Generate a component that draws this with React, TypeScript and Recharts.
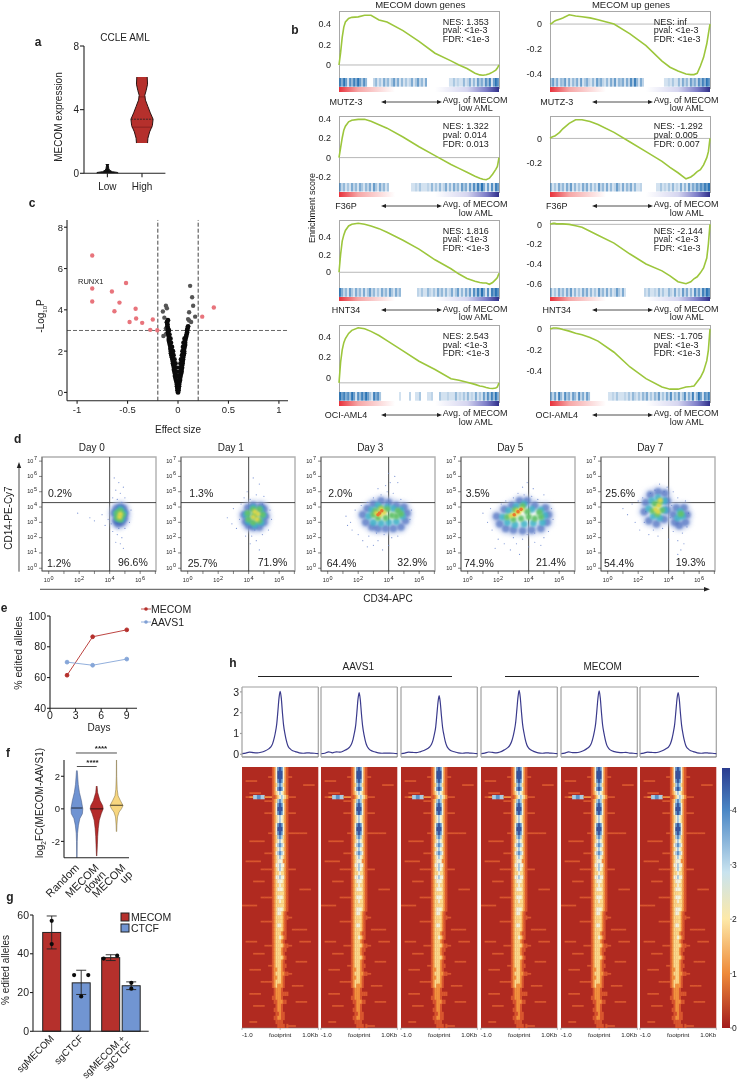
import React from 'react'
import {
  Area, Bar, BarChart, Cell, ComposedChart, ErrorBar, Line, LineChart, ReferenceArea, ReferenceLine,
  Scatter, ScatterChart, XAxis, YAxis,
} from 'recharts'

const FONT = '"Liberation Sans", Arial, sans-serif'
const INK = '#222'

// panel a
const aLowY = [0, 0.05, 0.1, 0.2, 0.3, 0.55]
const aLowW = [0.3, 0.3, 0.14, 0.06, 0.04, 0.02]
const aHighY = [1.9, 2.2, 2.6, 3, 3.4, 3.8, 4.2, 4.6, 4.9, 5.2, 5.6, 6.05]
const aHighW = [0.16, 0.17, 0.22, 0.3, 0.32, 0.24, 0.17, 0.1, 0.08, 0.12, 0.16, 0.15]

// panel c
const cPink = [[-0.85, 6.63], [-0.85, 5.03], [-0.85, 4.4], [-0.515, 5.3], [-0.655, 4.89], [-0.58, 4.35], [-0.63, 3.93], [-0.42, 4.05], [-0.48, 3.41], [-0.415, 3.58], [-0.355, 3.37], [-0.25, 3.53], [-0.275, 3.03], [-0.205, 3.01], [0.24, 3.67], [0.355, 4.11]]
const cGrey = [[0.12, 5.16], [0.14, 4.61], [0.15, 4.2], [0.11, 3.88], [0.17, 3.67], [0.13, 3.41], [0.1, 3.55], [0.11, 3.48], [-0.12, 4.2], [-0.15, 3.92], [-0.11, 4.08], [-0.135, 3.62], [-0.145, 2.73], [-0.12, 2.82], [-0.09, 2.57], [-0.12, 3.1]]
const cBlack = [
  [0, 0], [-0.005, 0.1], [0.005, 0.1], [-0.005, 0.2], [0.005, 0.2], [-0.01, 0.3], [0.01, 0.3], [-0.01, 0.4], [0.01, 0.4], [0, 0.5], [-0.015, 0.5], [0.015, 0.5], [-0.02, 0.6], [0.02, 0.6], [-0.025, 0.7], [0.02, 0.7], [-0.03, 0.8], [0.025, 0.8], [0, 0.8],
  [-0.03, 0.9], [0.03, 0.9], [-0.035, 1], [0.035, 1], [-0.015, 1], [0.015, 1], [-0.04, 1.1], [0.035, 1.1], [-0.04, 1.2], [0.04, 1.2], [-0.02, 1.2], [0.02, 1.2], [-0.045, 1.3], [0.04, 1.3], [-0.05, 1.4], [0.045, 1.4], [-0.025, 1.4], [0.025, 1.4],
  [-0.05, 1.5], [0.045, 1.5], [-0.055, 1.6], [0.05, 1.6], [-0.035, 1.6], [0.03, 1.6], [-0.06, 1.7], [0.05, 1.7], [-0.065, 1.8], [0.055, 1.8], [-0.045, 1.8], [0.04, 1.8], [-0.07, 1.9], [0.06, 1.9], [-0.07, 2], [0.06, 2], [-0.05, 2], [0.045, 2],
  [-0.075, 2.1], [0.06, 2.1], [-0.075, 2.2], [0.065, 2.2], [-0.06, 2.2], [0.05, 2.2], [-0.08, 2.3], [0.07, 2.3], [-0.085, 2.4], [0.07, 2.4], [-0.07, 2.4], [0.055, 2.4], [-0.09, 2.5], [0.07, 2.5], [-0.09, 2.6], [0.075, 2.6], [-0.075, 2.6], [0.065, 2.6],
  [-0.09, 2.7], [0.08, 2.7], [-0.095, 2.8], [0.085, 2.8], [-0.085, 2.8], [-0.1, 2.9], [0.09, 2.9], [-0.1, 3], [0.09, 3], [-0.09, 3], [-0.1, 3.1], [0.095, 3.1], [-0.105, 3.2], [0.1, 3.2], [-0.105, 3.3], [-0.11, 3.4], [-0.1, 3.5],
]

// panel b: x is % of the ranked list
const gseaX = [0, 1, 2, 3, 4, 6, 8, 12, 16, 20, 25, 30, 40, 50, 60, 70, 75, 80, 85, 88, 90, 92, 94, 96, 98, 99, 100]
const es1L = [0, 0.12, 0.27, 0.37, 0.42, 0.455, 0.465, 0.47, 0.485, 0.485, 0.44, 0.42, 0.335, 0.23, 0.115, 0.04, 0, -0.035, -0.08, -0.097, -0.1, -0.095, -0.085, -0.07, -0.05, -0.03, 0]
const es1R = [0, 0.005, 0.015, 0.025, 0.03, 0.04, 0.05, 0.075, 0.065, 0.06, 0.05, 0.035, 0, -0.08, -0.175, -0.3, -0.35, -0.38, -0.405, -0.41, -0.41, -0.4, -0.34, -0.27, -0.16, -0.08, 0]
const es2L = [0, 0.1, 0.2, 0.28, 0.32, 0.365, 0.38, 0.39, 0.39, 0.37, 0.335, 0.3, 0.21, 0.11, 0.02, -0.07, -0.11, -0.15, -0.19, -0.21, -0.22, -0.225, -0.21, -0.17, -0.12, -0.09, 0]
const es2R = [0, 0.01, 0.015, 0.02, 0.03, 0.05, 0.08, 0.125, 0.155, 0.155, 0.14, 0.115, 0.05, -0.03, -0.11, -0.19, -0.24, -0.285, -0.335, -0.32, -0.3, -0.275, -0.26, -0.22, -0.16, -0.11, 0]
const es3L = [0, 0.2, 0.35, 0.42, 0.47, 0.52, 0.54, 0.55, 0.54, 0.52, 0.49, 0.45, 0.36, 0.26, 0.14, 0.04, -0.02, -0.07, -0.1, -0.115, -0.12, -0.12, -0.135, -0.115, -0.08, -0.06, -0.01]
const es3R = [0, 0.005, 0.01, 0.01, 0.005, 0.005, 0.005, 0, -0.015, -0.03, -0.07, -0.11, -0.19, -0.3, -0.4, -0.47, -0.52, -0.58, -0.6, -0.58, -0.55, -0.53, -0.49, -0.44, -0.34, -0.2, 0]
const es4L = [-0.05, 0.15, 0.27, 0.34, 0.38, 0.43, 0.46, 0.485, 0.475, 0.45, 0.41, 0.36, 0.26, 0.16, 0.08, -0.01, -0.025, -0.045, -0.065, -0.08, -0.085, -0.095, -0.103, -0.105, -0.1, -0.09, -0.05]
const es4R = [0, 0.005, 0.01, 0.01, 0.01, 0.005, -0.005, -0.02, -0.04, -0.055, -0.08, -0.115, -0.22, -0.36, -0.47, -0.55, -0.57, -0.57, -0.55, -0.545, -0.54, -0.5, -0.46, -0.4, -0.3, -0.2, 0]

// stripe strength along the ranked list, one digit per bin
const hits1L = '85961748596374000241315241362514131251362415000000000001131211412514163527481697'
const hits1R = '36251436151425161352141635214152614351527384152000000000011213114152416352748597'
const hits2L = '52413152415314251631524130000000000011213111214131412514152416351627384951617286'
const hits2R = '41315241526141315251413162415141263151425141120000000113121314121514162536475869'
const hits3L = '85241631524151362413152416315240000000021311421315241412513614152617384951718697'
const hits3R = '41315241526141315251413162415141263151000000000213112141311421513162514173628597'
const hits4L = '96857496174859631857300000000010000200113000112000311121114121314121513162738495'
const hits4R = '52618417351641725163000000000112131112131421314251314261315271426137152814961758'

const nesLeft = [['NES: 1.353', 'pval: <1e-3', 'FDR: <1e-3'], ['NES: 1.322', 'pval: 0.014', 'FDR: 0.013'], ['NES: 1.816', 'pval: <1e-3', 'FDR: <1e-3'], ['NES: 2.543', 'pval: <1e-3', 'FDR: <1e-3']]
const nesRight = [['NES: inf', 'pval: <1e-3', 'FDR: <1e-3'], ['NES: -1.292', 'pval: 0.005', 'FDR: 0.007'], ['NES: -2.144', 'pval: <1e-3', 'FDR: <1e-3'], ['NES: -1.705', 'pval: <1e-3', 'FDR: <1e-3']]
const cellLines = ['MUTZ-3', 'F36P', 'HNT34', 'OCI-AML4']
const esLeft = [es1L, es2L, es3L, es4L]
const esRight = [es1R, es2R, es3R, es4R]
const hitsLeft = [hits1L, hits2L, hits3L, hits4L]
const hitsRight = [hits1R, hits2R, hits3R, hits4R]
const ticksLeft = [[0, 0.2, 0.4], [-0.2, 0, 0.2, 0.4], [0, 0.2, 0.4], [0, 0.2, 0.4]]
const ticksRight = [[-0.4, -0.2, 0], [-0.2, 0], [-0.6, -0.4, -0.2, 0], [-0.4, -0.2, 0]]
const domainLeft = [[-0.13, 0.527], [-0.262, 0.424], [-0.173, 0.587], [-0.136, 0.512]]
const domainRight = [[-0.44, 0.106], [-0.3725, 0.186], [-0.64, 0.044], [-0.594, 0.038]]

// panel d, decades
const dDays = ['Day 0', 'Day 1', 'Day 3', 'Day 5', 'Day 7']
const dUpperLeft = ['0.2%', '1.3%', '2.0%', '3.5%', '25.6%']
const dLowerLeft = ['1.2%', '25.7%', '64.4%', '74.9%', '54.4%']
const dLowerRight = ['96.6%', '71.9%', '32.9%', '21.4%', '19.3%']
const day0 = [
  [[4.3, 5.9], [4.6, 5.6], [4.9, 5.3], [4.4, 5.1], [4.7, 4.9], [5, 4.6], [4.2, 4.6], [4.5, 4.5], [4.8, 4.3], [3.9, 3.2], [2.7, 3.3], [3, 3.1], [3.5, 3.5], [5.4, 3.8], [5.3, 3], [4.2, 2.4], [4.5, 2.2], [4.8, 2], [4.4, 1.7], [4.7, 1.6], [4.6, 2.6], [5, 2.6], [4.1, 2.9], [4.9, 1.3], [1.9, 3.6], [3.7, 2.8]],
  [[4.3, 3.6], [4.4, 3.1], [4.55, 2.9], [4.8, 3], [4.95, 3.25], [5, 3.6], [4.9, 3.9], [4.7, 4], [4.45, 3.9], [4.7, 3.5], [4.6, 3.1]],
  [[4.45, 3.6], [4.55, 3.25], [4.8, 3.25], [4.9, 3.6], [4.7, 3.85]],
  [[4.5, 3.3], [4.7, 3.2], [4.85, 3.5], [4.7, 3.75], [4.5, 3.6]],
  [[4.7, 3.55], [4.65, 3.35]],
  [],
]
const day1 = [
  [[3, 3.9], [2.6, 3.3], [3.2, 2.6], [3.5, 4.2], [3.9, 5], [4.3, 5.9], [4.7, 5.5], [5, 4.7], [4.5, 4.8], [4.1, 4.5], [5.4, 3.8], [5.5, 3.2], [5.3, 2.5], [4.9, 2.2], [4.5, 1.8], [4.1, 1.6], [3.8, 2.1], [4.7, 1.2], [4.4, 2.5], [3.4, 3.2], [2.9, 2.9], [4.9, 4.2], [3.7, 4.6], [4.2, 2.1]],
  [[3.7, 3.5], [3.8, 3.05], [4, 2.8], [4.3, 2.7], [4.7, 2.7], [5, 3], [5.1, 3.4], [5, 3.85], [4.8, 4.05], [4.3, 4.1], [3.95, 3.95]],
  [[3.85, 3.5], [4, 3.05], [4.4, 2.85], [4.8, 3], [4.95, 3.45], [4.8, 3.85], [4.3, 3.95], [4.4, 3.4]],
  [[4, 3.2], [4.3, 3], [4.7, 3.1], [4.9, 3.5], [4.7, 3.85], [4.3, 3.85], [3.95, 3.6], [4.4, 3.5]],
  [[4.3, 3.35], [4.6, 3.55], [4.55, 3.2], [4.4, 3.7]],
  [],
]
const day3 = [
  [[1.2, 3.4], [1.5, 3], [1.8, 3.8], [1.6, 2.5], [2, 2.2], [2.3, 1.8], [2.6, 1.4], [3, 1.5], [3.3, 1.8], [3.6, 1.2], [4, 1.5], [4.2, 2], [4.6, 2.1], [3.5, 4.8], [3.3, 5.2], [3.8, 5.4], [4.1, 5.6], [4.4, 6], [4.6, 5.6], [3.9, 5], [4.3, 4.9], [3, 4.6], [2.6, 4.3], [5.4, 3.2], [5.5, 3.8], [2.7, 2.1], [3.2, 2.3], [3.7, 2.2], [4, 6.2], [4.8, 4.5], [2.2, 4.1], [1.3, 2.8]],
  [[2.3, 3.5], [2.5, 3], [2.9, 2.7], [3.3, 2.6], [3.8, 2.6], [4.3, 2.6], [4.8, 2.7], [5.1, 3.1], [5.2, 3.6], [5, 4], [4.5, 4.1], [4, 4.3], [3.5, 4.4], [3, 4.2], [2.6, 3.9]],
  [[2.7, 3.4], [3, 3], [3.5, 2.95], [4, 3], [4.5, 3.05], [4.9, 3.4], [4.8, 3.8], [4.3, 3.9], [3.9, 4], [3.3, 4.1], [2.9, 3.8]],
  [[3, 3.5], [3.3, 3.3], [3.8, 3.3], [4.2, 3.45], [4.5, 3.4], [4.8, 3.55], [4.6, 3.75], [3.9, 3.85], [3.5, 3.9], [3.15, 3.75]],
  [[3.2, 3.6], [3.45, 3.5], [3.7, 3.65], [3.5, 3.85]],
  [[3.4, 3.6], [3.55, 3.75], [3.3, 3.5]],
]
const day5 = [
  [[1, 3.6], [1.3, 3], [1.5, 3.9], [1.6, 2.5], [2, 1.9], [2.4, 1.6], [2.8, 1.2], [3.2, 1.6], [3.6, 1.9], [4, 1.4], [4.4, 1.7], [4.8, 1.5], [5, 2], [5.3, 2.4], [5.6, 3.2], [5.5, 3.9], [5, 4.8], [4.3, 5.2], [3.9, 5.6], [3.6, 5.3], [3.3, 4.9], [3, 4.6], [2.5, 4.4], [3, 2], [3.9, 2.2], [4.4, 2.3], [4.2, 4.7], [3.7, 4.8], [1.8, 1.3], [3.4, 0.9], [2.2, 4.2], [4.6, 4.5]],
  [[1.9, 3.4], [2.1, 2.9], [2.5, 2.6], [3, 2.5], [3.6, 2.45], [4.2, 2.5], [4.8, 2.6], [5.2, 3], [5.3, 3.5], [5.1, 3.95], [4.4, 4.1], [3.9, 4.4], [3.4, 4.4], [2.9, 4.1], [2.4, 3.85]],
  [[2.3, 3.35], [2.6, 3], [3.1, 2.85], [3.7, 2.9], [4.3, 2.95], [4.9, 3], [5.05, 3.45], [4.8, 3.8], [4.2, 3.85], [3.7, 4.2], [3.2, 4.05], [2.7, 3.75]],
  [[2.6, 3.35], [3, 3.2], [3.5, 3.25], [4, 3.35], [4.4, 3.25], [4.8, 3.35], [4.7, 3.65], [3.9, 3.7], [3.6, 4.05], [3.1, 3.8]],
  [[2.85, 3.45], [3.1, 3.5], [3.35, 3.65], [3.55, 3.85], [3.25, 3.75]],
  [[3.05, 3.5], [3.3, 3.7], [3.5, 3.85]],
]
const day7 = [
  [[1, 3.9], [1.3, 3.5], [1.6, 4.2], [1.8, 3], [2.1, 2.5], [2.4, 3], [2.7, 2.2], [3, 2.5], [3.3, 2.1], [3.6, 2.6], [4, 1.9], [4.3, 2.4], [4.6, 1.8], [4.8, 1.2], [4.9, 2.3], [5.2, 2.7], [5.3, 3.6], [5.1, 4.4], [4.6, 4.6], [4.3, 5], [3.9, 5.3], [3.4, 5.5], [3.1, 5.1], [2.8, 4.9], [2.3, 4.6], [2, 4.4], [4.1, 3.3], [4.2, 4.1], [4.6, 0.9], [5, 1.6], [3.7, 5], [2.5, 3.7]],
  [[2.4, 3.7], [2.5, 4.3], [2.8, 4.8], [3.3, 5], [3.75, 4.9], [3.9, 4.4], [3.9, 3.8], [3.7, 3.2], [3.2, 2.9], [2.7, 3.1], [4.3, 3.5], [4.4, 3], [4.7, 2.8], [5.1, 3], [5.2, 3.5], [5, 3.95], [4.5, 3.95]],
  [[2.7, 3.9], [2.9, 4.4], [3.3, 4.6], [3.7, 4.4], [3.75, 3.8], [3.4, 3.3], [3, 3.4], [4.6, 3.3], [4.9, 3.4], [4.75, 3.7]],
  [[2.95, 3.75], [3.1, 4.2], [3.4, 4.3], [3.55, 3.8], [3.25, 3.55], [4.8, 3.55]],
  [[3.15, 3.85], [3.35, 4.1], [3.45, 4.45], [3.3, 3.7]],
  [],
]
const dayClouds = [day0, day1, day3, day5, day7]

// panel e
const eDays = [2, 5, 9]
const eMecom = [61.5, 86.5, 91]
const eAavs = [70, 68, 72]

// panel f
const fRandomY = [2.35, 1.5, 1, 0.5, 0, -0.3, -0.6, -1, -1.5, -2, -3]
const fRandomW = [0.02, 0.07, 0.13, 0.23, 0.3, 0.28, 0.15, 0.08, 0.035, 0.02, 0.01]
const fDownY = [1.4, 1, 0.5, 0.2, 0, -0.3, -0.7, -1.2, -1.7, -2.2, -2.9]
const fDownW = [0.02, 0.05, 0.17, 0.3, 0.33, 0.23, 0.13, 0.08, 0.05, 0.035, 0.01]
const fUpY = [3, 2, 1.2, 0.8, 0.5, 0.2, 0, -0.2, -0.5, -1, -1.4]
const fUpW = [0.005, 0.01, 0.035, 0.08, 0.2, 0.33, 0.25, 0.13, 0.05, 0.02, 0.01]
const fLabels = [['Random'], ['MECOM', 'down'], ['MECOM', 'up']]

// panel g
const gPos = [1, 2, 3, 3.695]
const gVals = [51, 25, 38, 23.5]
const gErr = [[8.5, 8.5], [6, 6.5], [1.5, 1.5], [2, 2]]
const gFills = ['#b5302c', '#7195d2', '#b5302c', '#7195d2']
const gDots = [[1, 57], [1, 45], [1.76, 29], [2.24, 29], [2, 18], [2.76, 37.5], [3.22, 39], [3.7, 25], [3.7, 22]]
const gLabels = [['sgMECOM'], ['sgCTCF'], ['sgMECOM +', 'sgCTCF']]

// panel h
const hX = [-1, -0.9, -0.8, -0.7, -0.6, -0.5, -0.4, -0.3, -0.25, -0.2, -0.16, -0.13, -0.09, -0.06, -0.03, 0, 0.03, 0.06, 0.09, 0.13, 0.16, 0.2, 0.25, 0.3, 0.4, 0.5, 0.6, 0.7, 0.8, 0.9, 1]
const hA1 = [0.03, 0.06, 0.1, 0.08, 0.07, 0.1, 0.16, 0.26, 0.34, 0.5, 0.75, 1, 1.45, 2.05, 2.7, 3.03, 2.7, 2, 1.4, 0.95, 0.68, 0.42, 0.28, 0.2, 0.13, 0.07, 0.05, 0.07, 0.06, 0.05, 0.03]
const hA2 = [0.03, 0.05, 0.12, 0.07, 0.12, 0.1, 0.17, 0.27, 0.35, 0.5, 0.72, 0.98, 1.4, 2, 2.65, 2.97, 2.62, 1.95, 1.38, 0.92, 0.66, 0.42, 0.27, 0.19, 0.12, 0.07, 0.05, 0.06, 0.06, 0.05, 0.03]
const hA3 = [0.03, 0.06, 0.1, 0.09, 0.08, 0.12, 0.18, 0.28, 0.35, 0.48, 0.68, 0.92, 1.32, 1.9, 2.5, 2.82, 2.48, 1.85, 1.3, 0.88, 0.62, 0.4, 0.26, 0.18, 0.12, 0.07, 0.05, 0.07, 0.06, 0.05, 0.03]
const hM1 = [0.03, 0.06, 0.11, 0.09, 0.07, 0.11, 0.2, 0.32, 0.42, 0.6, 0.85, 1.1, 1.55, 2.15, 2.75, 3.07, 2.72, 2.05, 1.45, 1, 0.72, 0.46, 0.3, 0.22, 0.13, 0.07, 0.05, 0.07, 0.06, 0.05, 0.03]
const hM2 = [0.03, 0.06, 0.12, 0.08, 0.08, 0.11, 0.18, 0.3, 0.38, 0.55, 0.8, 1.05, 1.5, 2.1, 2.72, 3.05, 2.7, 2.02, 1.42, 0.98, 0.7, 0.44, 0.29, 0.2, 0.13, 0.09, 0.08, 0.09, 0.06, 0.05, 0.03]
const hM3 = [0.03, 0.06, 0.1, 0.09, 0.08, 0.11, 0.18, 0.29, 0.36, 0.52, 0.76, 1.02, 1.46, 2.05, 2.66, 2.97, 2.64, 1.98, 1.4, 0.95, 0.68, 0.42, 0.28, 0.2, 0.13, 0.07, 0.05, 0.07, 0.06, 0.05, 0.03]
const hProfiles = [hA1, hA2, hA3, hM1, hM2, hM3]
const hLefts = [242, 321.3, 400.7, 481.3, 560.7, 640.3]

// one string per heatmap row, one digit per column; digit is a colour step
const heatRows = [
  '0000000012467642100000000', '0000000012477742100000000', '0000000112477742110000000', '0111000012467642100000000',
  '0000000012356532100001110', '0000000012467642100000000', '0011100012345432100000000', '0125652211234543211000000',
  '0000001112356532100000000', '0000000012467642100000000', '0000000012477742100000000', '0000001112467642111000000',
  '0000000012345432100000000', '0000000012345432100000000', '0000000012467642100000000', '0000000012477742100000000',
  '0000000112467642111111000', '0000000012356532100000000', '0011110012345432100000000', '0000000012456542100000000',
  '0000000012345432100000000', '0000001112456542100000000', '0000000012345432100000000', '0111100012344422100000000',
  '0000000012445442100000000', '0000011112345432111000000', '0000000012334332100000000', '0000000012445442100000000',
  '0001110012344432100000000', '0000000012334332100000000', '0000000012344432100011100', '0000000012333332100000000',
  '0000011112344432100000000', '0000000012334332100000000', '1111000012333332100000000', '0000000012344432100000000',
  '0000000012344321000000000', '0000000012333321110000000', '0000011112333321000000000', '0000000012344321000000000',
  '0000000012333321001111000', '0000000012333211000000000', '0000000012334321000000000', '0111000012333210000011100',
  '0000001112333321110000000', '0000000012333211000000000', '0001110012333210000000000', '0000000012333321000000000',
  '0000000012333210000111000', '0000000112333211000000000', '0011100012233210000000000', '0000000012333221110000000',
  '0000000012233210000000000', '0000011112333210000000000', '0000000012322210001110000', '0000000001222100000000000',
  '0011100001222111100000000', '0000000011222100000000000', '0000000001122211000111000', '0001110000122100000000000',
  '0000000001122100000000000', '0000000000112110000000000', '0000000001122110000000000', '0011000000111100000000000',
  '0000000000011110111000000',
]
const heatColors = ['#b02a20', '#d8562e', '#f2923f', '#fbd98a', '#f3f3dc', '#a9cde4', '#5a90c8', '#35559f']
const heatColWidths = [3.756, 3.756, 3.756, 3.756, 3.756, 3.756, 3.756, 3.756, 1.8, 1.8, 1.8, 1.8, 1.8, 1.8, 1.8, 1.8, 1.8, 3.756, 3.756, 3.756, 3.756, 3.756, 3.756, 3.756, 3.756]
const cbarTicks = [0, 1, 2, 3, 4]

const HEAT_W = 76.3
const colCenters: number[] = []
heatColWidths.reduce((edge, w) => {
  colCenters.push(((edge + w / 2) / HEAT_W) * 2 - 1)
  return edge + w
}, 0)

const cellsOf = (rows: string[]) => {
  const out: { x: number; y: number; v: number; w: number; thin: boolean }[] = []
  rows.forEach((row, r) => {
    row.split('').forEach((ch, c) => {
      if (ch !== '0') {
        out.push({ x: colCenters[c], y: r, v: Number(ch), w: heatColWidths[c], thin: c < 8 || c > 16 })
      }
    })
  })
  return out
}
const heatCells = cellsOf(heatRows)

const pts = (list: number[][]) => list.map(([x, y]) => ({ x, y }))
const band = (ys: number[], ws: number[], c: number, key: string) =>
  ys.map((y, i) => ({ y, [key]: [c - ws[i], c + ws[i]] }))

const aLowRows = band(aLowY, aLowW, 1, 'low')
const aHighRows = band(aHighY, aHighW, 2, 'high')
const fRndRows = band(fRandomY, fRandomW, 1, 'rnd')
const fDownRows = band(fDownY, fDownW, 2, 'down')
const fUpRows = band(fUpY, fUpW, 3, 'up')
const eTable = eDays.map((x, i) => ({ x, mecom: eMecom[i], aavs: eAavs[i] }))
const gTable = gPos.map((x, i) => ({ x, v: gVals[i], err: gErr[i] }))

function T({ x, y, size = 10, anchor = 'start', bold = false, rotate = 0, color = INK, children }: any) {
  const tx = anchor === 'middle' ? '-50%' : anchor === 'end' ? '-100%' : '0'
  return (
    <div
      style={{
        position: 'absolute', left: x, top: y, fontSize: size, fontWeight: bold ? 700 : 400, color,
        whiteSpace: 'nowrap', lineHeight: 1, transform: `translate(${tx},-50%) rotate(${rotate}deg)`,
      }}
    >
      {children}
    </div>
  )
}

function At({ x, y, children, style }: any) {
  return <div style={{ position: 'absolute', left: x, top: y, ...style }}>{children}</div>
}

const axisText = (size: number) => ({ fontSize: size, fill: INK, fontFamily: FONT })

function Arrow({ x1, x2, y }: { x1: number; x2: number; y: number }) {
  return (
    <svg style={{ position: 'absolute', left: x1, top: y - 4, overflow: 'visible' }} width={x2 - x1} height={8}>
      <line x1={2} y1={4} x2={x2 - x1 - 2} y2={4} stroke={INK} strokeWidth={0.8} />
      <path d={`M0 4L5 2V6Z M${x2 - x1} 4L${x2 - x1 - 5} 2V6Z`} fill={INK} />
    </svg>
  )
}

function Gsea({ left, top, barTop, barBottom, stripBottom, es, hits, ticks, domain, base = 0, nes, line, labelX, labelY, avgX, avgY }: any) {
  const w = 160
  const data = gseaX.map((x, i) => ({ x, es: es[i] }))
  const bins = hits.split('').map((d: string, i: number) => ({ i, on: 1, d: Number(d) }))
  return (
    <>
      <div style={{ position: 'absolute', left, top, width: w - 1, height: barBottom - top, border: '1px solid #a8a8a8', boxSizing: 'content-box' }} />
      <At x={left - 30} y={top - 6}>
        <LineChart width={w + 30} height={barTop - top + 6} data={data} margin={{ top: 6, right: 0, bottom: 0, left: 0 }}>
          <XAxis type="number" dataKey="x" domain={[0, 100]} hide />
          <YAxis
            type="number" width={30} domain={domain} ticks={ticks} interval={0} tickLine={false} axisLine={false}
            tickMargin={2} tick={axisText(9)} allowDataOverflow
          />
          <ReferenceLine y={base} stroke="#b8b8b8" />
          <Line dataKey="es" stroke="#9cc63c" strokeWidth={1.6} dot={false} isAnimationActive={false} />
        </LineChart>
      </At>
      <At x={left} y={barTop}>
        <BarChart width={w} height={barBottom - barTop} data={bins} barCategoryGap={0} margin={{ top: 0, right: 0, bottom: 0, left: 0 }}>
          <XAxis dataKey="i" hide />
          <YAxis domain={[0, 1]} hide />
          <Bar dataKey="on" isAnimationActive={false}>
            {bins.map((b: any) => (
              <Cell key={b.i} fill="#1f6cb0" fillOpacity={b.d === 0 ? 0 : 0.1 + (b.d / 9) * 0.85} />
            ))}
          </Bar>
        </BarChart>
      </At>
      <div
        style={{
          position: 'absolute', left, top: barBottom, width: w, height: stripBottom - barBottom,
          background: 'linear-gradient(to right,#e8323c 0%,#f6a6a6 12%,#fff 35%,#fff 60%,#d6d6f0 80%,#7d7dc8 92%,#2f2f8a 100%)',
        }}
      />
      {nes.map((s: string, i: number) => (
        <T key={s} x={avgX} y={top + 10.7 + i * 8.7} size={9}>{s}</T>
      ))}
      <T x={labelX} y={labelY} size={9} anchor="middle">{line}</T>
      <Arrow x1={avgX - 62} x2={avgX - 1} y={labelY} />
      <T x={avgX} y={avgY} size={9}>Avg. of MECOM</T>
      <T x={avgX + 33} y={avgY + 8.7} size={9} anchor="middle">low AML</T>
    </>
  )
}

const gseaRows = [
  { top: 11, barTop: 78.3, barBottom: 87, stripBottom: 92, labelY: 101.5, avgY: 99.7 },
  { top: 115.7, barTop: 183, barBottom: 191.5, stripBottom: 196.7, labelY: 205.7, avgY: 204 },
  { top: 220, barTop: 287.7, barBottom: 296.5, stripBottom: 301.3, labelY: 310, avgY: 308.7 },
  { top: 325.3, barTop: 392, barBottom: 400.7, stripBottom: 405.7, labelY: 414.7, avgY: 413 },
]

const LogXTick = ({ x, y, payload }: any) =>
  payload.value % 2 === 0 ? (
    <text x={x} y={y + 6} textAnchor="middle" fontSize={5.5} fill={INK} fontFamily={FONT}>
      10<tspan dy={-2.5} dx={0.5} fontSize={5.5}>{payload.value}</tspan>
    </text>
  ) : <g />

const LogYTick = ({ x, y, payload }: any) => (
  <text x={x} y={y + 1.5} textAnchor="end" fontSize={5.5} fill={INK} fontFamily={FONT}>
    10<tspan dy={-2.5} dx={0.5} fontSize={5.5}>{payload.value}</tspan>
  </text>
)

function Flow({ left, cloud }: { left: number; cloud: number[][][] }) {
  const layers = [
    { src: 1, r: 6, fill: '#b4c3ea', op: 0.7, blur: 2.2 },
    { src: 0, r: 0.6, fill: '#6f8ad0', op: 0.9, blur: 0 },
    { src: 1, r: 3.8, fill: '#4468bb', op: 0.62, blur: 1.3 },
    { src: 2, r: 3.6, fill: '#3db1c7', op: 0.85, blur: 1.2 },
    { src: 3, r: 3.2, fill: '#63c26c', op: 0.95, blur: 1 },
    { src: 4, r: 2.5, fill: '#dcd648', op: 1, blur: 0.9 },
    { src: 5, r: 1.8, fill: '#e9772f', op: 1, blur: 0.7 },
  ]
  const xd = [-0.44, 7.04]
  const yd = [-0.18, 7.27]
  return (
    <At x={left - 26} y={456.7 - 4}>
      <ScatterChart width={114 + 26 + 4} height={114 + 4 + 18} margin={{ top: 4, right: 4, bottom: 0, left: 0 }}>
        <XAxis type="number" dataKey="x" domain={xd} ticks={[0, 1, 2, 3, 4, 5, 6, 7]} interval={0} height={18} tick={<LogXTick />} tickSize={3} stroke="#333" strokeWidth={0.6} allowDataOverflow />
        <YAxis type="number" dataKey="y" domain={yd} ticks={[0, 1, 2, 3, 4, 5, 6, 7]} interval={0} width={26} tick={<LogYTick />} tickSize={3} stroke="#333" strokeWidth={0.6} allowDataOverflow />
        <ReferenceArea x1={xd[0]} x2={xd[1]} y1={yd[0]} y2={yd[1]} fill="#fff" stroke="#b0b0b0" strokeWidth={1.4} />
        {layers.map((l, i) => (
          <Scatter
            key={i}
            data={pts(cloud[l.src])}
            isAnimationActive={false}
            shape={(p: any) => (
              <circle cx={p.cx} cy={p.cy} r={l.r} fill={l.fill} fillOpacity={l.op} style={l.blur ? { filter: `blur(${l.blur}px)` } : undefined} />
            )}
          />
        ))}
        <ReferenceLine x={4} stroke="#333" strokeWidth={0.9} />
        <ReferenceLine y={4.29} stroke="#333" strokeWidth={0.9} />
      </ScatterChart>
    </At>
  )
}

const RotTick = ({ x, y, payload, labels, positions, size = 11, lift = 0 }: any) => {
  const idx = positions.indexOf(payload.value)
  const lines = labels[idx] || []
  return (
    <g transform={`translate(${x},${y - lift})`}>
      {lines.map((s: string, i: number) => (
        <text key={s} transform={`rotate(-45) translate(0,${i * 9.5})`} x={0} y={4} textAnchor="end" fontSize={size} fill={INK} fontFamily={FONT}>
          {s}
        </text>
      ))}
    </g>
  )
}

function Profile({ left, values, first }: any) {
  const data = hX.map((x, i) => ({ x, y: values[i] }))
  return (
    <At x={left - 12} y={686.7 - 6}>
      <LineChart width={76.3 + 12 + 1} height={70 + 6 + 4} data={data} margin={{ top: 6, right: 1, bottom: 0, left: 0 }}>
        <XAxis type="number" dataKey="x" domain={[-1, 1]} ticks={[-1, 0, 1]} height={4} tick={false} tickSize={2} stroke="#333" strokeWidth={0.8} />
        <YAxis
          type="number" width={12} domain={[-0.13, 3.235]} ticks={[0, 1, 2, 3]} interval={0} tickSize={2} tickMargin={1}
          stroke="#a0a0a0" strokeWidth={1.2} allowDataOverflow
          tick={first ? axisText(10.5) : false}
        />
        <ReferenceLine y={3.235} stroke="#a0a0a0" strokeWidth={1.2} />
        <ReferenceLine x={1} stroke="#a0a0a0" strokeWidth={1.2} />
        <Line type="monotone" dataKey="y" stroke="#3a3a8c" strokeWidth={1.2} dot={false} isAnimationActive={false} />
      </LineChart>
    </At>
  )
}

const HeatTick = ({ x, y, payload }: any) => {
  const v = payload.value
  const label = v === -1 ? '-1.0' : v === 0 ? 'footprint' : '1.0Kb'
  const anchor = v === -1 ? 'start' : v === 0 ? 'middle' : 'end'
  return (
    <text x={x} y={y + 5} textAnchor={anchor} fontSize={6.2} fill={INK} fontFamily={FONT}>{label}</text>
  )
}

function Heat({ left }: { left: number }) {
  const h = 261
  const ch = h / heatRows.length + 0.3
  return (
    <At x={left - 8} y={767}>
      <ScatterChart width={HEAT_W + 16} height={h + 16} margin={{ top: 0, right: 8, bottom: 0, left: 8 }}>
        <XAxis type="number" dataKey="x" domain={[-1, 1]} ticks={[-1, 0, 1]} interval={0} height={16} tick={<HeatTick />} tickSize={2} stroke="#888" strokeWidth={0.6} allowDataOverflow />
        <YAxis type="number" dataKey="y" domain={[-0.5, heatRows.length - 0.5]} reversed hide allowDataOverflow />
        <ReferenceArea x1={-1} x2={1} y1={-0.5} y2={heatRows.length - 0.5} fill={heatColors[0]} fillOpacity={1} />
        <Scatter
          data={heatCells}
          isAnimationActive={false}
          shape={(p: any) => {
            const height = p.payload.thin && p.payload.v < 3 ? ch * 0.4 : ch
            return <rect x={p.cx - p.payload.w / 2 - 0.15} y={p.cy - height / 2} width={p.payload.w + 0.3} height={height} fill={heatColors[p.payload.v]} style={{ filter: 'blur(0.5px)' }} />
          }}
        />
      </ScatterChart>
    </At>
  )
}

export default function App() {
  const fSpine = { stroke: '#222', strokeWidth: 1.1 }
  return (
    <div style={{ position: 'absolute', left: 0, top: 0, width: 737, height: 1082, background: '#fff', fontFamily: FONT, filter: 'blur(0.3px)', overflow: 'hidden' }}>
      <style>{'.recharts-surface{overflow:visible}'}</style>
      {/* a */}
      <T x={38} y={42} size={12} bold anchor="middle">a</T>
      <T x={125} y={38.3} size={10} anchor="middle">CCLE AML</T>
      <T x={58.7} y={117} size={10} anchor="middle" rotate={-90}>MECOM expression</T>
      <At x={84.3 - 20} y={46 - 6}>
        <ComposedChart layout="vertical" width={81.4 + 20 + 2} height={127.3 + 6 + 24} margin={{ top: 6, right: 2, bottom: 0, left: 0 }}>
          <XAxis type="number" domain={[0.324, 2.676]} ticks={[1, 2]} interval={0} height={24} tickSize={4} tickFormatter={(v: number) => (v === 1 ? 'Low' : 'High')} tick={axisText(10)} tickMargin={6} {...fSpine} />
          <YAxis type="number" dataKey="y" reversed domain={[0, 8]} ticks={[0, 4, 8]} interval={0} width={20} tickSize={4} tick={axisText(10)} tickMargin={1} {...fSpine} />
          <Area data={aLowRows} dataKey="low" stroke="#111" strokeWidth={1} fill="#111" fillOpacity={1} dot={false} isAnimationActive={false} />
          <Area data={aHighRows} dataKey="high" stroke="#2b1211" strokeWidth={1} fill="#b5302c" fillOpacity={1} dot={false} isAnimationActive={false} />
          <ReferenceLine segment={[{ x: 1.68, y: 3.4 }, { x: 2.32, y: 3.4 }]} stroke="#222" strokeDasharray="2 1" strokeWidth={0.8} />
          <ReferenceLine segment={[{ x: 1.7, y: 2.9 }, { x: 2.3, y: 2.9 }]} stroke="#6b1a18" strokeWidth={0.6} />
          <ReferenceLine segment={[{ x: 1.9, y: 4.8 }, { x: 2.1, y: 4.8 }]} stroke="#6b1a18" strokeWidth={0.6} />
          <ReferenceLine segment={[{ x: 0.95, y: 0.55 }, { x: 1.05, y: 0.55 }]} stroke="#111" strokeWidth={1} />
          <ReferenceLine segment={[{ x: 1, y: 0 }, { x: 1, y: 0.55 }]} stroke="#111" strokeWidth={1} />
        </ComposedChart>
      </At>

      {/* c */}
      <T x={32} y={203} size={12} bold anchor="middle">c</T>
      <T x={41.7} y={316} size={10} anchor="middle" rotate={-90}>
        -Log<sub style={{ fontSize: 6 }}>10</sub>P
      </T>
      <T x={178} y={430} size={10} anchor="middle">Effect size</T>
      <T x={90.7} y={282.3} size={7.5} anchor="middle">RUNX1</T>
      <At x={67 - 14} y={220 - 4}>
        <ScatterChart width={221 + 14 + 10} height={180.7 + 4 + 22} margin={{ top: 4, right: 10, bottom: 0, left: 0 }}>
          <XAxis type="number" dataKey="x" domain={[-1.1, 1.09]} ticks={[-1, -0.5, 0, 0.5, 1]} interval={0} height={22} tickSize={3} tick={axisText(9.5)} tickMargin={3} {...fSpine} />
          <YAxis type="number" dataKey="y" domain={[-0.4, 8.35]} ticks={[0, 2, 4, 6, 8]} interval={0} width={14} tickSize={3} tick={axisText(9.5)} tickMargin={1} {...fSpine} />
          <ReferenceLine x={-0.2} stroke="#444" strokeDasharray="4 2" />
          <ReferenceLine x={0.2} stroke="#444" strokeDasharray="4 2" />
          <ReferenceLine y={3} stroke="#666" strokeDasharray="4 2" />
          <Scatter data={pts(cPink)} fill="#e8747c" isAnimationActive={false} shape={(p: any) => <circle cx={p.cx} cy={p.cy} r={2.2} fill="#e8747c" />} />
          <Scatter data={pts(cGrey)} isAnimationActive={false} shape={(p: any) => <circle cx={p.cx} cy={p.cy} r={2.2} fill="#555" />} />
          <Scatter data={pts(cBlack)} isAnimationActive={false} shape={(p: any) => <circle cx={p.cx} cy={p.cy} r={2.4} fill="#0b0b0b" />} />
        </ScatterChart>
      </At>

      {/* b */}
      <T x={295} y={30} size={12} bold anchor="middle">b</T>
      <T x={420.3} y={4.5} size={9.5} anchor="middle">MECOM down genes</T>
      <T x={631} y={4.5} size={9.5} anchor="middle">MECOM up genes</T>
      <T x={312} y={208} size={9} anchor="middle" rotate={-90}>Enrichment score</T>
      {gseaRows.map((r, i) => (
        <React.Fragment key={i}>
          <Gsea {...r} left={339.3} es={esLeft[i]} hits={hitsLeft[i]} ticks={ticksLeft[i]} domain={domainLeft[i]} base={i === 3 ? -0.05 : 0} nes={nesLeft[i]} line={cellLines[i]} labelX={346} avgX={442.7} />
          <Gsea {...r} left={550.3} es={esRight[i]} hits={hitsRight[i]} ticks={ticksRight[i]} domain={domainRight[i]} nes={nesRight[i]} line={cellLines[i]} labelX={556.7} avgX={653.7} />
        </React.Fragment>
      ))}

      {/* d */}
      <T x={17.7} y={439} size={12} bold anchor="middle">d</T>
      <T x={8.5} y={518} size={10} anchor="middle" rotate={-90}>CD14-PE-Cy7</T>
      <svg style={{ position: 'absolute', left: 0, top: 0 }} width={737} height={610}>
        <line x1={19} y1={571.7} x2={19} y2={466} stroke={INK} strokeWidth={0.8} />
        <path d="M19 462L16.8 468H21.2Z" fill={INK} />
        <line x1={40} y1={589.3} x2={706} y2={589.3} stroke={INK} strokeWidth={0.8} />
        <path d="M710 589.3L704 587V591.6Z" fill={INK} />
      </svg>
      {dDays.map((d, i) => {
        const left = [42.3, 181.3, 320.7, 460.7, 600.7][i]
        return (
          <React.Fragment key={d}>
            <Flow left={left} cloud={dayClouds[i]} />
            <T x={left + 49.5} y={447.7} size={10} anchor="middle">{d}</T>
            <T x={left + [5.7, 8, 7.6, 5, 4.6][i]} y={492.7} size={10.5}>{dUpperLeft[i]}</T>
            <T x={left + [4.7, 6.4, 6, 3.3, 3.3][i]} y={563} size={10.5}>{dLowerLeft[i]}</T>
            <T x={left + [75.7, 76.4, 76.6, 75.3, 75][i]} y={561.7} size={10.5}>{dLowerRight[i]}</T>
          </React.Fragment>
        )
      })}
      <T x={388} y={599} size={10} anchor="middle">CD34-APC</T>

      {/* e */}
      <T x={4} y={608} size={12} bold anchor="middle">e</T>
      <T x={18.3} y={653} size={10.5} anchor="middle" rotate={-90}>% edited alleles</T>
      <T x={99} y={728.3} size={10} anchor="middle">Days</T>
      <svg style={{ position: 'absolute', left: 140, top: 602 }} width={12} height={24}>
        <line x1={1} y1={7} x2={11} y2={7} stroke="#b5302c" strokeWidth={0.8} />
        <circle cx={6} cy={7} r={1.8} fill="#b5302c" />
        <line x1={1} y1={20} x2={11} y2={20} stroke="#7f9fd4" strokeWidth={0.8} />
        <circle cx={6} cy={20} r={1.8} fill="#7f9fd4" />
      </svg>
      <T x={151} y={608.5} size={10.5}>MECOM</T>
      <T x={151} y={621.5} size={10.5}>AAVS1</T>
      <At x={49.7 - 24} y={615.7 - 6}>
        <LineChart width={87 + 24 + 4} height={92.3 + 6 + 16} data={eTable} margin={{ top: 6, right: 4, bottom: 0, left: 0 }}>
          <XAxis type="number" dataKey="x" domain={[0, 10.2]} ticks={[0, 3, 6, 9]} interval={0} height={16} tickSize={3} tick={axisText(10.5)} tickMargin={0} {...fSpine} />
          <YAxis type="number" domain={[40, 100]} ticks={[40, 60, 80, 100]} interval={0} width={24} tickSize={3} tick={axisText(10.5)} tickMargin={1} {...fSpine} />
          <Line dataKey="mecom" stroke="#b5302c" strokeWidth={0.9} dot={{ r: 1.9, fill: '#b5302c', stroke: '#b5302c' }} isAnimationActive={false} />
          <Line dataKey="aavs" stroke="#86a6d8" strokeWidth={0.9} dot={{ r: 1.9, fill: '#86a6d8', stroke: '#86a6d8' }} isAnimationActive={false} />
        </LineChart>
      </At>

      {/* f */}
      <T x={8} y={753} size={12} bold anchor="middle">f</T>
      <T x={40.7} y={803} size={10} anchor="middle" rotate={-90}>
        log<sub style={{ fontSize: 6.5 }}>2</sub>FC(MECOM-AAVS1)
      </T>
      <T x={101} y={749} size={8} bold anchor="middle">****</T>
      <T x={92.5} y={763} size={8} bold anchor="middle">****</T>
      <At x={64.3 - 16} y={760 - 12}>
        <ComposedChart layout="vertical" width={65 + 16 + 8} height={97.7 + 12 + 44} margin={{ top: 12, right: 8, bottom: 0, left: 0 }}>
          <XAxis type="number" domain={[0.35, 3.63]} ticks={[1, 2, 3.35]} interval={0} height={44} tickLine={false} tick={<RotTick labels={fLabels} positions={[1, 2, 3.35]} />} {...fSpine} />
          <YAxis type="number" dataKey="y" reversed domain={[-3, 3]} ticks={[-2, 0, 2]} interval={0} width={16} tickSize={3} tick={axisText(9.5)} tickMargin={1} {...fSpine} />
          <Area data={fRndRows} dataKey="rnd" stroke="#3d4f78" strokeWidth={0.5} fill="#6f93d2" fillOpacity={1} isAnimationActive={false} />
          <Area data={fDownRows} dataKey="down" stroke="#5a1715" strokeWidth={0.5} fill="#b42a2a" fillOpacity={1} isAnimationActive={false} />
          <Area data={fUpRows} dataKey="up" stroke="#7a6a3c" strokeWidth={0.5} fill="#f7d67f" fillOpacity={1} isAnimationActive={false} />
          <ReferenceLine segment={[{ x: 0.72, y: 0.05 }, { x: 1.28, y: 0.05 }]} stroke="#111" strokeWidth={0.8} />
          <ReferenceLine segment={[{ x: 1.68, y: 0 }, { x: 2.32, y: 0 }]} stroke="#111" strokeWidth={0.8} />
          <ReferenceLine segment={[{ x: 2.68, y: 0.22 }, { x: 3.32, y: 0.22 }]} stroke="#111" strokeWidth={0.8} />
          <ReferenceLine segment={[{ x: 1, y: 2.6 }, { x: 2, y: 2.6 }]} stroke="#222" strokeWidth={0.8} ifOverflow="visible" />
          <ReferenceLine segment={[{ x: 0.95, y: 3.43 }, { x: 3.02, y: 3.43 }]} stroke="#222" strokeWidth={0.8} ifOverflow="visible" />
        </ComposedChart>
      </At>

      {/* g */}
      <T x={10} y={897} size={12} bold anchor="middle">g</T>
      <T x={5.5} y={970} size={10} anchor="middle" rotate={-90}>% edited alleles</T>
      <svg style={{ position: 'absolute', left: 120, top: 912 }} width={11} height={22}>
        <rect x={1} y={1} width={8} height={8} fill="#b5302c" stroke="#222" />
        <rect x={1} y={12} width={8} height={8} fill="#7195d2" stroke="#222" />
      </svg>
      <T x={131} y={917} size={10.5}>MECOM</T>
      <T x={131} y={928} size={10.5}>CTCF</T>
      <At x={33.3 - 20} y={915 - 6}>
        <ComposedChart width={115.7 + 20 + 4} height={116.3 + 6 + 50} data={gTable} margin={{ top: 6, right: 4, bottom: 0, left: 0 }}>
          <XAxis type="number" dataKey="x" domain={[0.366, 4.288]} ticks={[1, 2, 3.42]} interval={0} height={50} tickLine={false} tick={<RotTick labels={gLabels} positions={[1, 2, 3.42]} size={9.8} lift={3} />} {...fSpine} />
          <YAxis type="number" domain={[0, 60]} ticks={[0, 20, 40, 60]} interval={0} width={20} tickSize={3} tick={axisText(10.5)} tickMargin={1} {...fSpine} />
          <Bar
            dataKey="v"
            isAnimationActive={false}
            shape={(p: any) => (
              <rect x={p.x + p.width / 2 - 9} y={p.y} width={18} height={p.height} fill={gFills[p.index]} stroke="#222" strokeWidth={1} />
            )}
          >
            <ErrorBar dataKey="err" width={5} stroke="#222" strokeWidth={0.9} />
          </Bar>
          <Scatter data={pts(gDots)} dataKey="y" isAnimationActive={false} shape={(p: any) => <circle cx={p.cx} cy={p.cy} r={2.1} fill="#0b0b0b" />} />
        </ComposedChart>
      </At>

      {/* h */}
      <T x={233} y={662.7} size={12} bold anchor="middle">h</T>
      <T x={358.3} y={667.3} size={10} anchor="middle">AAVS1</T>
      <T x={602.7} y={667.3} size={10} anchor="middle">MECOM</T>
      <div style={{ position: 'absolute', left: 258.3, top: 676, width: 193.4, height: 0.8, background: INK }} />
      <div style={{ position: 'absolute', left: 505, top: 676, width: 194, height: 0.8, background: INK }} />
      {hLefts.map((left, i) => (
        <Profile key={left} left={left} values={hProfiles[i]} first={i === 0} />
      ))}
      {hLefts.map((left) => (
        <Heat key={left} left={left} />
      ))}
      <At x={721.7} y={768}>
        <BarChart width={8 + 14} height={266} data={[{ k: 'scale', v: 4.78 }]} barCategoryGap={0} margin={{ top: 0, right: 0, bottom: 6, left: 0 }}>
          <defs>
            <linearGradient id="cbar" x1="0" y1="1" x2="0" y2="0">
              <stop offset="0%" stopColor="#a31c1c" />
              <stop offset="21%" stopColor="#ee8a3a" />
              <stop offset="42%" stopColor="#fde9a8" />
              <stop offset="60%" stopColor="#c8e3ef" />
              <stop offset="84%" stopColor="#4a86c5" />
              <stop offset="100%" stopColor="#2a3c8f" />
            </linearGradient>
          </defs>
          <XAxis dataKey="k" hide />
          <YAxis orientation="right" type="number" domain={[0, 4.78]} ticks={cbarTicks} interval={0} width={14} tickSize={2} tickMargin={0} tick={axisText(8.5)} stroke="#333" strokeWidth={0.5} axisLine={false} />
          <Bar dataKey="v" fill="url(#cbar)" isAnimationActive={false} />
        </BarChart>
      </At>
    </div>
  )
}
